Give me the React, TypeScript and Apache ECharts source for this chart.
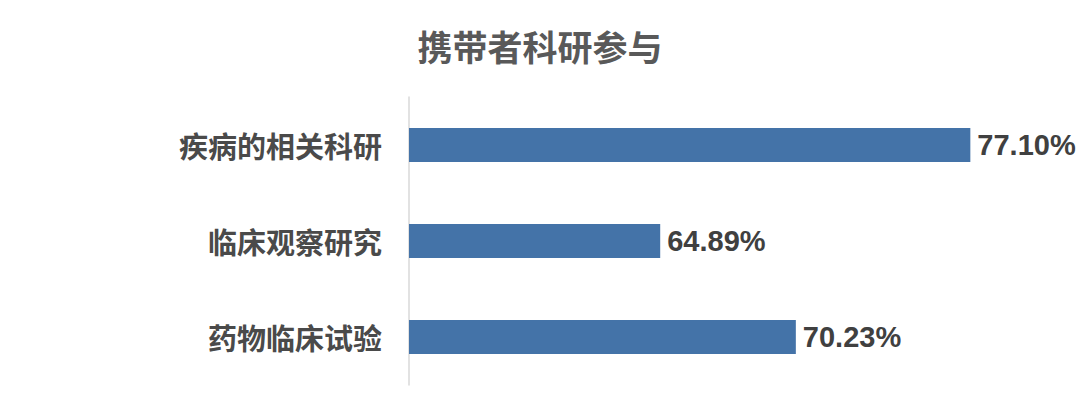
import { useEffect, useRef } from "react";
import * as echarts from "echarts";

const categories = ["疾病的相关科研", "临床观察研究", "药物临床试验"];
const values = [77.1, 64.89, 70.23];

export default function App() {
  const chartRef = useRef<HTMLDivElement>(null);

  useEffect(() => {
    if (!chartRef.current) return;
    const chart = echarts.init(chartRef.current, null, { renderer: "svg" });

    chart.setOption({
      animation: false,
      title: {
        text: "携带者科研参与",
        left: "center",
        top: 23,
        textStyle: {
          fontFamily: "Noto Sans CJK SC",
          fontWeight: "bold",
          fontSize: 35,
          color: "#595959",
        },
      },
      grid: { left: 409, right: 36, top: 97, bottom: 28 },
      xAxis: {
        type: "value",
        min: 55,
        max: 80,
        show: false,
      },
      yAxis: {
        type: "category",
        data: categories,
        inverse: true,
        axisLine: { lineStyle: { color: "#d9d9d9", width: 1.5 } },
        axisTick: { show: false },
        axisLabel: {
          margin: 27,
          fontFamily: "Noto Sans CJK SC",
          fontWeight: "bold",
          fontSize: 29,
          color: "#4a4a4a",
        },
      },
      series: [
        {
          type: "bar",
          data: values,
          barWidth: 34,
          itemStyle: { color: "#4473a8" },
          label: {
            show: true,
            position: "right",
            distance: 7,
            formatter: (p: any) => p.value.toFixed(2) + "%",
            fontFamily: "Liberation Sans",
            fontWeight: "bold",
            fontSize: 29,
            color: "#404040",
          },
        },
      ],
    });

    return () => chart.dispose();
  }, []);

  return (
    <div
      ref={chartRef}
      style={{ position: "absolute", left: 0, top: 0, width: "1080px", height: "413px" }}
    />
  );
}
